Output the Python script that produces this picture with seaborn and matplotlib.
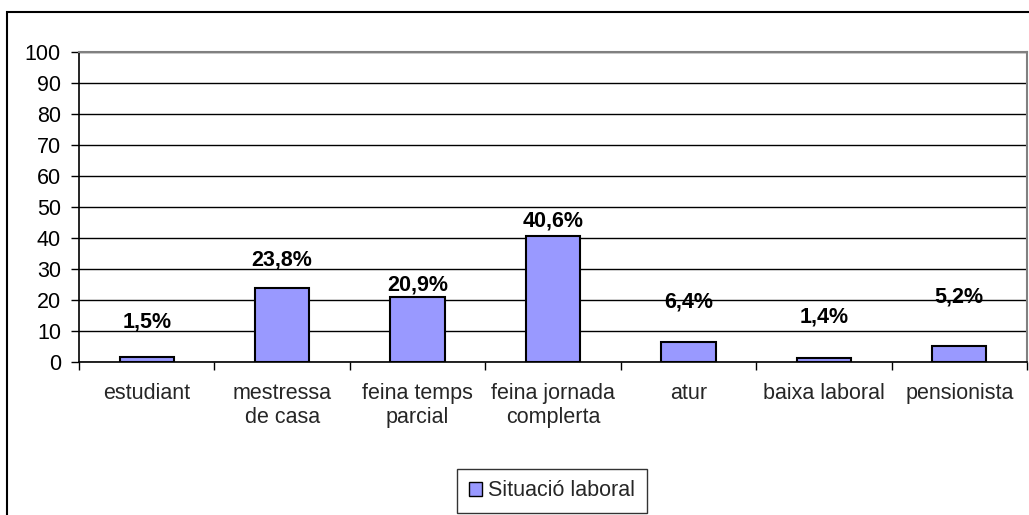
"""
Situació laboral — Excel-style bar chart recreated with seaborn.
"""

import matplotlib
matplotlib.use("Agg")
import matplotlib.pyplot as plt
import matplotlib.patches as mpatches
import seaborn as sns

# ── Data ─────────────────────────────────────────────────────────────────────
categories = [
    "estudiant",
    "mestressa\nde casa",
    "feina temps\nparcial",
    "feina jornada\ncomplerta",
    "atur",
    "baixa laboral",
    "pensionista",
]
values = [1.5, 23.8, 20.9, 40.6, 6.4, 1.4, 5.2]
value_labels = ["1,5%", "23,8%", "20,9%", "40,6%", "6,4%", "1,4%", "5,2%"]
series_name = "Situació laboral"

# label heights (data units) as placed in the original chart
label_y = [13.0, 33.0, 24.8, 45.5, 19.5, 14.5, 21.0]

BAR_COLOR = "#9999FF"
FS = 15.5

# ── Style ────────────────────────────────────────────────────────────────────
sns.set_style("white")
plt.rcParams["font.family"] = ["Liberation Sans", "DejaVu Sans"]

fig = plt.figure(figsize=(10.29, 5.15), dpi=100)
fig.patch.set_facecolor("white")
ax = fig.add_axes([79 / 1029, 1 - 362 / 515, (1027 - 79) / 1029, (362 - 52) / 515])

sns.barplot(
    x=list(range(len(categories))),
    y=values,
    color=BAR_COLOR,
    saturation=1,
    width=0.4,
    edgecolor="black",
    linewidth=1.5,
    native_scale=True,
    ax=ax,
)

for i, (lab, ly) in enumerate(zip(value_labels, label_y)):
    ax.text(i, ly, lab, ha="center", va="center",
            fontsize=FS, fontweight="bold", color="black")

ax.set_xlim(-0.5, len(categories) - 0.5)
ax.set_ylim(0, 100)
ax.set_yticks(range(0, 101, 10))
ax.tick_params(axis="y", labelsize=FS, length=6, width=1, direction="out",
               left=True, pad=7, colors="black")

# boundary ticks between categories, labels centred under each bar
ax.set_xticks([i - 0.5 for i in range(len(categories) + 1)])
ax.set_xticklabels([])
ax.set_xticks(range(len(categories)), minor=True)
ax.set_xticklabels(categories, minor=True, fontsize=FS)
ax.tick_params(axis="x", which="major", length=6, width=1, direction="out",
               bottom=True, colors="black")
ax.tick_params(axis="x", which="minor", length=0, pad=15)
ax.set_xlabel("")
ax.set_ylabel("")

ax.yaxis.grid(True, color="black", linewidth=1)
ax.xaxis.grid(False)
ax.set_axisbelow(True)

for side in ["left", "bottom"]:
    ax.spines[side].set_color("black")
    ax.spines[side].set_linewidth(1.2)
for side in ["top", "right"]:
    ax.spines[side].set_color("#808080")
    ax.spines[side].set_linewidth(1.5)

# legend
handle = mpatches.Patch(facecolor=BAR_COLOR, edgecolor="black", linewidth=1, label=series_name)
leg = fig.legend(
    handles=[handle], loc="center", bbox_to_anchor=(552 / 1029, 1 - 491 / 515),
    fontsize=FS, frameon=True, fancybox=False, edgecolor="black",
    handlelength=0.6, handleheight=0.6, handletextpad=0.3, borderpad=0.55,
)
leg.get_frame().set_linewidth(1)

# chart-area border (bottom/right run off the image)
fig.add_artist(mpatches.Rectangle(
    (7 / 1029, -0.1), 1.2, 1 - 12 / 515 + 0.1, transform=fig.transFigure,
    fill=False, edgecolor="black", linewidth=1.5,
))

plt.savefig("out.png", dpi=100, facecolor="white")
plt.close()
print("Saved: out.png")
